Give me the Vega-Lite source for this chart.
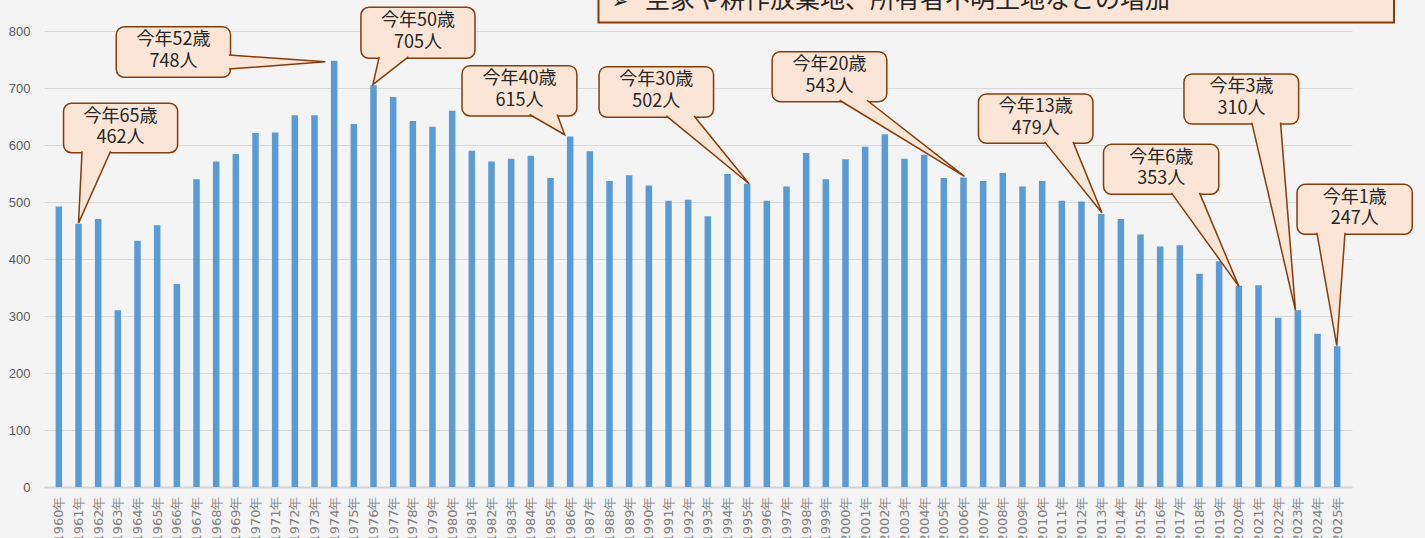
{
  "$schema": "https://vega.github.io/schema/vega-lite/v6.json",
  "width": 1308,
  "height": 456,
  "autosize": {"type": "none"},
  "padding": {"left": 44, "top": 31, "right": 73, "bottom": 51},
  "background": "#f4f4f4",
  "config": {"view": {"stroke": null}, "font": "Noto Sans CJK JP"},
  "datasets": {
    "births": [
      {"year": 1960, "births": 492}, {"year": 1961, "births": 462}, {"year": 1962, "births": 470}, {"year": 1963, "births": 310},
      {"year": 1964, "births": 432}, {"year": 1965, "births": 459}, {"year": 1966, "births": 356}, {"year": 1967, "births": 540},
      {"year": 1968, "births": 571}, {"year": 1969, "births": 584}, {"year": 1970, "births": 621}, {"year": 1971, "births": 622},
      {"year": 1972, "births": 652}, {"year": 1973, "births": 652}, {"year": 1974, "births": 748}, {"year": 1975, "births": 637},
      {"year": 1976, "births": 705}, {"year": 1977, "births": 684}, {"year": 1978, "births": 642}, {"year": 1979, "births": 632},
      {"year": 1980, "births": 660}, {"year": 1981, "births": 590}, {"year": 1982, "births": 571}, {"year": 1983, "births": 576},
      {"year": 1984, "births": 581}, {"year": 1985, "births": 542}, {"year": 1986, "births": 615}, {"year": 1987, "births": 589},
      {"year": 1988, "births": 537}, {"year": 1989, "births": 547}, {"year": 1990, "births": 529}, {"year": 1991, "births": 502},
      {"year": 1992, "births": 504}, {"year": 1993, "births": 475}, {"year": 1994, "births": 549}, {"year": 1995, "births": 532},
      {"year": 1996, "births": 502}, {"year": 1997, "births": 527}, {"year": 1998, "births": 586}, {"year": 1999, "births": 540},
      {"year": 2000, "births": 575}, {"year": 2001, "births": 597}, {"year": 2002, "births": 619}, {"year": 2003, "births": 576},
      {"year": 2004, "births": 583}, {"year": 2005, "births": 542}, {"year": 2006, "births": 543}, {"year": 2007, "births": 537},
      {"year": 2008, "births": 551}, {"year": 2009, "births": 527}, {"year": 2010, "births": 537}, {"year": 2011, "births": 502},
      {"year": 2012, "births": 501}, {"year": 2013, "births": 479}, {"year": 2014, "births": 470}, {"year": 2015, "births": 443},
      {"year": 2016, "births": 422}, {"year": 2017, "births": 424}, {"year": 2018, "births": 374}, {"year": 2019, "births": 396},
      {"year": 2020, "births": 353}, {"year": 2021, "births": 354}, {"year": 2022, "births": 297}, {"year": 2023, "births": 310},
      {"year": 2024, "births": 269}, {"year": 2025, "births": 247}
    ],
    "callouts": [
      {"id": "65", "x1": 1960.24, "x2": 1966.04, "y1": 586.5, "y2": 673.2, "cx": 1963.14, "t1": 649.7, "t2": 611.7, "l1": "今年65歳", "l2": "462人"},
      {"id": "52", "x1": 1962.92, "x2": 1968.73, "y1": 718.8, "y2": 807.5, "cx": 1965.83, "t1": 784, "t2": 746, "l1": "今年52歳", "l2": "748人"},
      {"id": "50", "x1": 1975.36, "x2": 1981.16, "y1": 752.1, "y2": 841.6, "cx": 1978.26, "t1": 817, "t2": 779, "l1": "今年50歳", "l2": "705人"},
      {"id": "40", "x1": 1980.5, "x2": 1986.34, "y1": 650.9, "y2": 739.1, "cx": 1983.42, "t1": 715.6, "t2": 677.6, "l1": "今年40歳", "l2": "615人"},
      {"id": "30", "x1": 1987.47, "x2": 1993.29, "y1": 648.6, "y2": 737.4, "cx": 1990.38, "t1": 713.9, "t2": 675.9, "l1": "今年30歳", "l2": "502人"},
      {"id": "20", "x1": 1996.27, "x2": 2002.1, "y1": 676, "y2": 763.7, "cx": 1999.19, "t1": 740.2, "t2": 702.2, "l1": "今年20歳", "l2": "543人"},
      {"id": "13", "x1": 2006.76, "x2": 2012.58, "y1": 603, "y2": 689.5, "cx": 2009.67, "t1": 666, "t2": 628, "l1": "今年13歳", "l2": "479人"},
      {"id": "6", "x1": 2013.12, "x2": 2018.98, "y1": 513.5, "y2": 601.2, "cx": 2016.05, "t1": 577.7, "t2": 539.7, "l1": "今年6歳", "l2": "353人"},
      {"id": "3", "x1": 2017.21, "x2": 2023.04, "y1": 636.8, "y2": 724.6, "cx": 2020.13, "t1": 701.1, "t2": 663.1, "l1": "今年3歳", "l2": "310人"},
      {"id": "1", "x1": 2022.96, "x2": 2028.82, "y1": 443.3, "y2": 531, "cx": 2025.89, "t1": 507.5, "t2": 469.5, "l1": "今年1歳", "l2": "247人"}
    ],
    "pointers": [
      {"id": "65", "ord": 1, "px": 1961.18, "py": 589}, {"id": "65", "ord": 2, "px": 1961.0, "py": 463}, {"id": "65", "ord": 3, "px": 1962.63, "py": 589},
      {"id": "52", "ord": 1, "px": 1968.65, "py": 757.9}, {"id": "52", "ord": 2, "px": 1973.55, "py": 746}, {"id": "52", "ord": 3, "px": 1968.65, "py": 733.3},
      {"id": "50", "ord": 1, "px": 1976.29, "py": 754.5}, {"id": "50", "ord": 2, "px": 1975.97, "py": 706}, {"id": "50", "ord": 3, "px": 1977.77, "py": 754.5},
      {"id": "40", "ord": 1, "px": 1983.94, "py": 653.5}, {"id": "40", "ord": 2, "px": 1985.72, "py": 618}, {"id": "40", "ord": 3, "px": 1985.34, "py": 653.5},
      {"id": "30", "ord": 1, "px": 1990.89, "py": 651}, {"id": "30", "ord": 2, "px": 1995.1, "py": 532}, {"id": "30", "ord": 3, "px": 1992.3, "py": 651},
      {"id": "20", "ord": 1, "px": 1999.7, "py": 678.5}, {"id": "20", "ord": 2, "px": 2006.05, "py": 545}, {"id": "20", "ord": 3, "px": 2001.09, "py": 678.5},
      {"id": "13", "ord": 1, "px": 2010.13, "py": 605.5}, {"id": "13", "ord": 2, "px": 2013.04, "py": 481}, {"id": "13", "ord": 3, "px": 2011.57, "py": 605.5},
      {"id": "6", "ord": 1, "px": 2016.57, "py": 516}, {"id": "6", "ord": 2, "px": 2020.0, "py": 352}, {"id": "6", "ord": 3, "px": 2018.0, "py": 516},
      {"id": "3", "ord": 1, "px": 2020.66, "py": 639.3}, {"id": "3", "ord": 2, "px": 2022.88, "py": 310}, {"id": "3", "ord": 3, "px": 2022.12, "py": 639.3},
      {"id": "1", "ord": 1, "px": 2023.97, "py": 445.8}, {"id": "1", "ord": 2, "px": 2024.98, "py": 248}, {"id": "1", "ord": 3, "px": 2025.4, "py": 445.8}
    ],
    "banner": [
      {"x1": 1987.44, "x2": 2027.89, "y1": 815, "y2": 900, "ax": 1988.1, "tx": 1989.8, "ty": 841.2, "arrow": "➢", "label": "空家や耕作放棄地、所有者不明土地などの増加"}
    ]
  },
  "layer": [
    {
      "data": {"name": "births"},
      "mark": {"type": "bar", "orient": "vertical", "width": 6.5, "color": "#5B9BD5"},
      "encoding": {
        "x": {
          "field": "year", "type": "quantitative",
          "scale": {"domain": [1959.5, 2025.5], "nice": false, "zero": false},
          "axis": {
            "values": [1960,1961,1962,1963,1964,1965,1966,1967,1968,1969,1970,1971,1972,1973,1974,1975,1976,1977,1978,1979,1980,1981,1982,1983,1984,1985,1986,1987,1988,1989,1990,1991,1992,1993,1994,1995,1996,1997,1998,1999,2000,2001,2002,2003,2004,2005,2006,2007,2008,2009,2010,2011,2012,2013,2014,2015,2016,2017,2018,2019,2020,2021,2022,2023,2024,2025],
            "tickCount": 200,
            "labelExpr": "datum.value + '年'",
            "labelAngle": -90, "labelFont": "DejaVu Sans", "labelFontSize": 13, "labelColor": "#808080", "labelPadding": 9,
            "labelOverlap": false, "labelBound": false, "labelFlush": false,
            "ticks": false, "grid": false, "domainColor": "#d4d4d4", "domainWidth": 2, "title": null
          }
        },
        "y": {
          "field": "births", "type": "quantitative",
          "scale": {"domain": [0, 800], "nice": false},
          "axis": {
            "values": [0, 100, 200, 300, 400, 500, 600, 700, 800],
            "labelFont": "Liberation Sans", "labelFontSize": 13, "labelColor": "#595959", "labelPadding": 14,
            "ticks": false, "domain": false, "gridColor": "#d9d9d9", "gridWidth": 1, "title": null
          }
        }
      }
    },
    {
      "data": {"name": "banner"},
      "mark": {"type": "rect", "fill": "#FBE5D6", "stroke": "#843C0C", "strokeWidth": 2},
      "encoding": {
        "x": {"field": "x1", "type": "quantitative"},
        "x2": {"field": "x2"},
        "y": {"field": "y1", "type": "quantitative"},
        "y2": {"field": "y2"}
      }
    },
    {
      "data": {"name": "banner"},
      "mark": {"type": "text", "align": "left", "baseline": "alphabetic", "fontSize": 20, "font": "DejaVu Sans", "color": "#1a1a1a"},
      "encoding": {
        "x": {"field": "ax", "type": "quantitative"},
        "y": {"field": "ty", "type": "quantitative"},
        "text": {"field": "arrow"}
      }
    },
    {
      "data": {"name": "banner"},
      "mark": {"type": "text", "align": "left", "baseline": "alphabetic", "fontSize": 25, "color": "#262626"},
      "encoding": {
        "x": {"field": "tx", "type": "quantitative"},
        "y": {"field": "ty", "type": "quantitative"},
        "text": {"field": "label"}
      }
    },
    {
      "data": {"name": "callouts"},
      "mark": {"type": "rect", "fill": "#FBE5D6", "stroke": "#843C0C", "strokeWidth": 1.5, "cornerRadius": 8},
      "encoding": {
        "x": {"field": "x1", "type": "quantitative"},
        "x2": {"field": "x2"},
        "y": {"field": "y1", "type": "quantitative"},
        "y2": {"field": "y2"}
      }
    },
    {
      "data": {"name": "pointers"},
      "mark": {"type": "line", "fill": "#FBE5D6", "stroke": "#843C0C", "strokeWidth": 1.5, "strokeJoin": "miter"},
      "encoding": {
        "x": {"field": "px", "type": "quantitative"},
        "y": {"field": "py", "type": "quantitative"},
        "detail": {"field": "id"},
        "order": {"field": "ord", "type": "quantitative"}
      }
    },
    {
      "data": {"name": "callouts"},
      "mark": {"type": "text", "align": "center", "baseline": "middle", "fontSize": 18, "color": "#262626"},
      "encoding": {
        "x": {"field": "cx", "type": "quantitative"},
        "y": {"field": "t1", "type": "quantitative"},
        "text": {"field": "l1"}
      }
    },
    {
      "data": {"name": "callouts"},
      "mark": {"type": "text", "align": "center", "baseline": "middle", "fontSize": 18, "color": "#262626"},
      "encoding": {
        "x": {"field": "cx", "type": "quantitative"},
        "y": {"field": "t2", "type": "quantitative"},
        "text": {"field": "l2"}
      }
    }
  ]
}
